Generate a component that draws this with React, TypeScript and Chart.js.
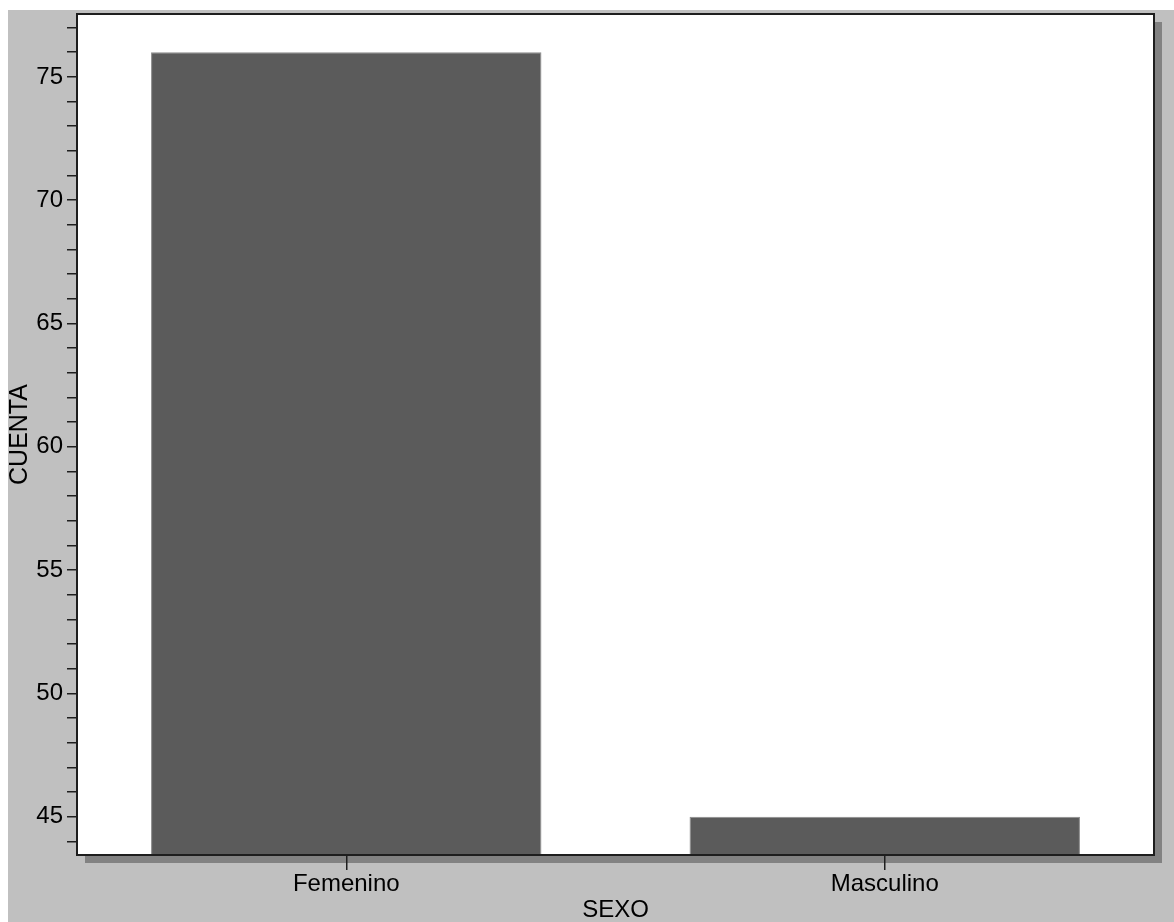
import React, { useEffect, useRef } from "react";
import { Chart, registerables } from "chart.js";

Chart.register(...registerables);

const categories = ["Femenino", "Masculino"];
const counts = [76, 45];
const yMin = 43.45;
const yMax = 77.55;
const labelStep = 5;
const xTitle = "SEXO";
const yTitle = "CUENTA";

const FONT = '"Liberation Sans", Arial, Helvetica, sans-serif';
const INK = "#1e1e1e";

export default function App() {
  const ref = useRef<HTMLCanvasElement>(null);

  useEffect(() => {
    if (!ref.current) return;
    const plotFrame = {
      id: "plotFrame",
      beforeDraw(chart: any) {
        const { ctx, chartArea: a } = chart;
        const w = a.right - a.left;
        const h = a.bottom - a.top;
        ctx.save();
        ctx.fillStyle = "#828282";
        ctx.fillRect(a.left + 8, a.top + 8, w, h);
        ctx.fillStyle = "#ffffff";
        ctx.fillRect(a.left, a.top, w, h);
        ctx.restore();
      },
      afterDraw(chart: any) {
        const { ctx, chartArea: a } = chart;
        ctx.save();
        ctx.strokeStyle = INK;
        ctx.lineWidth = 2;
        ctx.strokeRect(a.left, a.top, a.right - a.left, a.bottom - a.top);
        ctx.restore();
      },
    };

    const chart = new Chart(ref.current, {
      type: "bar",
      data: {
        labels: categories,
        datasets: [
          {
            data: counts,
            backgroundColor: "#5b5b5b",
            borderColor: "#8a8a8a",
            borderWidth: 1,
            borderSkipped: "start",
            barPercentage: 0.725,
            categoryPercentage: 1,
          },
        ],
      },
      options: {
        responsive: false,
        animation: false,
        layout: { padding: { top: 4, right: 20, left: 0, bottom: 0 } },
        plugins: {
          legend: { display: false },
          tooltip: { enabled: false },
          title: { display: false },
        },
        scales: {
          x: {
            offset: true,
            grid: {
              offset: false,
              drawOnChartArea: false,
              drawTicks: true,
              tickLength: 15,
              color: INK,
              lineWidth: 1.5,
            },
            border: { display: true, color: INK, width: 2 },
            ticks: {
              color: "#000",
              padding: 2,
              autoSkip: false,
              font: { family: FONT, size: 24, lineHeight: 1 },
              maxRotation: 0,
            },
            title: {
              display: true,
              text: xTitle,
              color: "#000",
              padding: 0,
              font: { family: FONT, size: 24, lineHeight: 1 },
            },
            afterFit(scale: any) {
              scale.height = 67;
              scale.paddingLeft = 0;
              scale.paddingRight = 0;
            },
          },
          y: {
            min: yMin,
            max: yMax,
            grid: {
              drawOnChartArea: false,
              drawTicks: true,
              tickLength: 10,
              color: INK,
              lineWidth: 1.5,
            },
            border: { display: true, color: INK, width: 2 },
            afterBuildTicks(scale: any) {
              const t: { value: number }[] = [];
              for (let v = Math.ceil(yMin); v <= Math.floor(yMax); v++) t.push({ value: v });
              scale.ticks = t;
            },
            ticks: {
              color: "#000",
              padding: 4,
              autoSkip: false,
              font: { family: FONT, size: 24, lineHeight: 1 },
              callback: (v: any) => (Number(v) % labelStep === 0 ? String(v) : ""),
            },
            title: {
              display: true,
              text: yTitle,
              color: "#000",
              padding: 0,
              font: { family: FONT, size: 25, lineHeight: 1 },
            },
            afterFit(scale: any) {
              scale.width = 69;
              scale.paddingTop = 0;
              scale.paddingBottom = 0;
            },
          },
        },
      },
      plugins: [plotFrame],
    } as any);

    return () => chart.destroy();
  }, []);

  return (
    <div
      style={{
        position: "absolute",
        left: 8,
        top: 10,
        width: 1166,
        height: 912,
        background: "#c0c0c0",
      }}
    >
      <canvas ref={ref} width={1166} height={912} style={{ display: "block" }} />
    </div>
  );
}
